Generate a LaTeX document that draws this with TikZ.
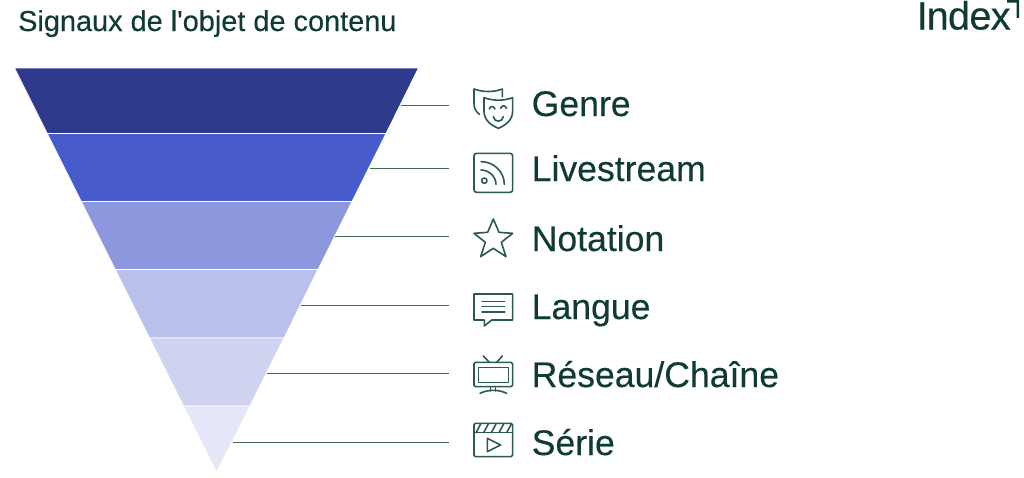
\documentclass[tikz,border=0pt]{standalone}
\usepackage{fontspec}
\setmainfont{Liberation Sans}
\newfontfamily\heavy[FakeBold=0.2]{Liberation Sans}
\newfontfamily\logofont[FakeBold=0.5]{Liberation Sans}
\definecolor{ink}{HTML}{0F3B33}
\definecolor{iconc}{HTML}{2C5A50}
\definecolor{linec}{HTML}{47695C}
\definecolor{bandA}{HTML}{2E3A8C}
\definecolor{bandB}{HTML}{475BCB}
\definecolor{bandC}{HTML}{8C97DD}
\definecolor{bandD}{HTML}{B9C0EB}
\definecolor{bandE}{HTML}{CFD3F0}
\definecolor{bandF}{HTML}{E5E7F8}
\tikzset{
  band/.style={draw=white,line width=0.8pt,line join=round},
  label/.style={anchor=base west,inner sep=0pt,text=ink,font=\heavy\fontsize{35.6}{40}\selectfont},
  title/.style={anchor=base west,inner sep=0pt,text=ink,font=\heavy\fontsize{28.9}{32}\selectfont},
  conn/.style={draw=linec,line width=1.4pt},
  icon/.style={draw=iconc,line width=1.6pt,line join=round,line cap=round},
  zoomA/.style={shift={(460,75)},x=0.3333pt,y=-0.3333pt},
  zoomB/.style={shift={(460,280)},x=0.3333pt,y=-0.3333pt},
}
\begin{document}
\begin{tikzpicture}[x=1pt,y=-1pt]
\useasboundingbox (0,0) rectangle (1024,477);
\fill[white] (0,0) rectangle (1024,477);
% funnel
\path[band,fill=bandA] (14.5,68) -- (418.5,68) -- (386,133.5) -- (47.2,133.5) -- cycle;
\path[band,fill=bandB] (47.2,133.5) -- (386,133.5) -- (352,201.5) -- (81.2,201.5) -- cycle;
\path[band,fill=bandC] (81.2,201.5) -- (352,201.5) -- (318,269.5) -- (115.2,269.5) -- cycle;
\path[band,fill=bandD] (115.2,269.5) -- (318,269.5) -- (284,338) -- (149.5,338) -- cycle;
\path[band,fill=bandE] (149.5,338) -- (284,338) -- (250,406) -- (183.5,406) -- cycle;
\path[band,fill=bandF] (183.5,406) -- (250,406) -- (216.5,472.5) -- cycle;
% connectors
\coordinate (a1) at (401,105.5); \coordinate (e1) at (449,105.5);
\coordinate (a2) at (369.5,168.5); \coordinate (e2) at (449,168.5);
\coordinate (a3) at (335,236.5); \coordinate (e3) at (449,236.5);
\coordinate (a4) at (301,305.5); \coordinate (e4) at (449,305.5);
\coordinate (a5) at (267,373.5); \coordinate (e5) at (449,373.5);
\coordinate (a6) at (233,442.5); \coordinate (e6) at (449,442.5);
\foreach \i in {1,...,6} \draw[conn] (a\i) -- (e\i);
% labels
\node[title] (ttl) at (18,31) {Signaux de l'objet de contenu};
\node[label] (l1) at (531.5,116) {Genre};
\node[label] (l2) at (531.5,181) {Livestream};
\node[label] (l3) at (531.5,251) {Notation};
\node[label] (l4) at (531.5,319) {Langue};
\node[label] (l5) at (531.5,387) {Réseau/Chaîne};
\node[label] (l6) at (531.5,455) {Série};
% logo
\node[anchor=base west,inner sep=0pt,text=ink,font=\logofont\fontsize{39.5}{42}\selectfont] (logo) at (916.5,29.5) {I\kern-1pt n\kern-0.6pt d\kern-0.6pt e\kern-0.6pt x};
\fill[ink] (1007,0) -- (1019,0) -- (1019,18) -- (1016.5,18) -- (1016.5,2.5) -- (1007,2.5) -- cycle;
% icons
\begin{scope}[zoomA]
 \draw[icon] (58,118) .. controls (46,108) and (42,98) .. (42,85) -- (42,42) .. controls (70,52) and (100,52) .. (127,42) -- (127,65);
 \draw[icon] (72,68) .. controls (100,78) and (130,78) .. (158,68) -- (158,108) .. controls (158,135) and (138,150) .. (115,160) .. controls (92,150) and (72,135) .. (72,108) -- cycle;
 \draw[icon] (88,102) .. controls (92,92) and (101,92) .. (105,102);
 \draw[icon] (122,100) .. controls (126,90) and (135,90) .. (140,100);
 \draw[icon] (100,125) .. controls (103,143) and (127,143) .. (130,125);
 \draw[icon] (42,243) .. controls (42,238) and (45,235) .. (50,235) -- (150,235) .. controls (155,235) and (158,238) .. (158,243) -- (158,344) .. controls (158,349) and (155,352) .. (150,352) -- (50,352) .. controls (45,352) and (42,349) .. (42,344) -- cycle;
 \draw[icon] (73,317) circle[radius=8];
 \draw[icon] (63,260) .. controls (102,260) and (133,291) .. (133,328);
 \draw[icon] (63,285) .. controls (87,285) and (108,305) .. (108,328);
 \draw[icon] (100,432) -- (117,472) -- (158,475) -- (124,502) -- (138,545) -- (100,520) -- (62,545) -- (76,502) -- (42,475) -- (83,472) -- cycle;
\end{scope}
\begin{scope}[zoomB]
 \draw[icon] (42,42) -- (158,42) -- (158,120) -- (95,120) -- (73,138) -- (73,120) -- (42,120) -- cycle;
 \draw[icon] (66,65) -- (134,65) (66,80) -- (134,80) (66,96) -- (134,96);
 \draw[icon,rounded corners=1.5pt] (42,247) rectangle (158,320);
 \draw[icon] (55,262) rectangle (145,308);
 \draw[icon] (70,228) -- (88,247) (127,228) -- (110,247);
 \draw[icon] (92,320) -- (92,333) (107,320) -- (107,333);
 \draw[icon] (60,340) .. controls (85,328) and (115,328) .. (140,340);
 \draw[icon,rounded corners=1.5pt] (42,430) rectangle (158,530);
 \draw[icon] (42,458) -- (158,458);
 \draw[icon] (48,458) -- (62,432) (71,458) -- (85,432) (94,458) -- (108,432) (117,458) -- (131,432) (140,458) -- (154,432);
 \draw[icon] (82,475) -- (122,495) -- (82,515) -- cycle;
\end{scope}
\end{tikzpicture}
\end{document}
